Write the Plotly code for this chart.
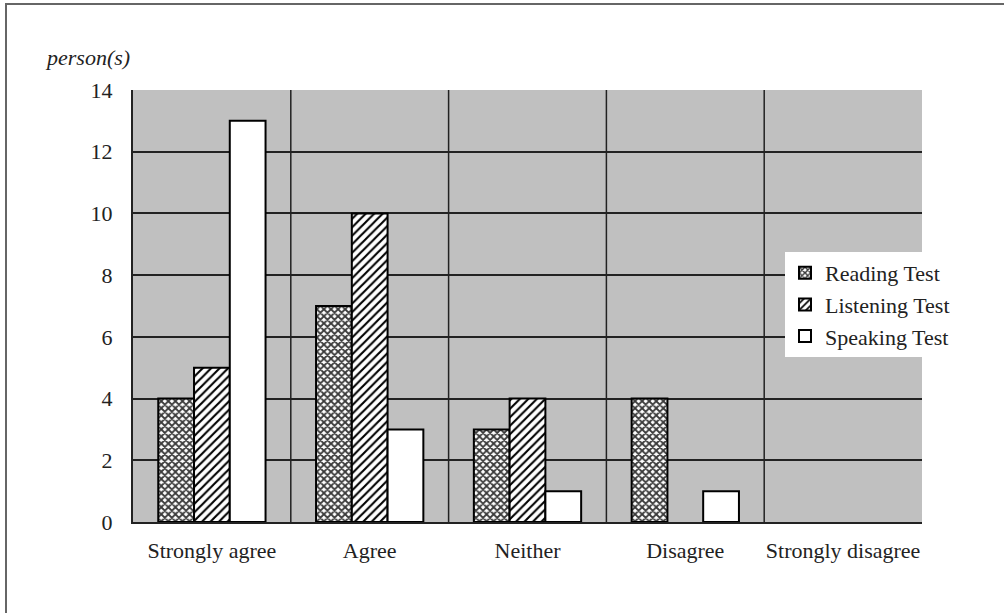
import plotly.graph_objects as go

categories = ["Strongly agree", "Agree", "Neither", "Disagree", "Strongly disagree"]
reading = [4, 7, 3, 4, 0]
listening = [5, 10, 4, 0, 0]
speaking = [13, 3, 1, 1, 0]
y_ticks = [0, 2, 4, 6, 8, 10, 12, 14]

FONT = "Liberation Serif"
FS = 22
L, R, T, B = 133, 82, 90, 91
W, H = 1004, 613
pw, ph = W - L - R, H - T - B


def outline(vals):
    return [2 if v > 0 else 0 for v in vals]


fig = go.Figure()
fig.add_trace(go.Bar(
    name="Reading Test", x=categories, y=reading,
    marker=dict(color="white", line=dict(color="black", width=outline(reading)),
                pattern=dict(shape="x", bgcolor="white", fgcolor="#3a3a3a",
                             size=5, solidity=0.6, fillmode="replace")),
))
fig.add_trace(go.Bar(
    name="Listening Test", x=categories, y=listening,
    marker=dict(color="white", line=dict(color="black", width=outline(listening)),
                pattern=dict(shape="/", bgcolor="white", fgcolor="black",
                             size=6, solidity=0.35, fillmode="replace")),
))
fig.add_trace(go.Bar(
    name="Speaking Test", x=categories, y=speaking,
    marker=dict(color="white", line=dict(color="black", width=outline(speaking))),
))

shapes = []
for i in range(len(categories) - 1):
    shapes.append(dict(type="line", xref="x", yref="paper", x0=i + 0.5, x1=i + 0.5,
                       y0=0, y1=1, line=dict(color="#222222", width=1.5), layer="below"))
# page frame (top and left edges)
shapes.append(dict(type="line", xref="paper", yref="paper",
                   x0=(5 - L) / pw, x1=(W - L) / pw, y0=(H - B - 4) / ph, y1=(H - B - 4) / ph,
                   line=dict(color="#666666", width=2)))
shapes.append(dict(type="line", xref="paper", yref="paper",
                   x0=(6 - L) / pw, x1=(6 - L) / pw, y0=(H - B - 4) / ph, y1=-B / ph,
                   line=dict(color="#666666", width=2)))

fig.update_layout(
    width=W, height=H,
    margin=dict(l=L, r=R, t=T, b=B),
    paper_bgcolor="white", plot_bgcolor="#c0c0c0",
    barmode="group", bargap=0.32, bargroupgap=0,
    font=dict(family=FONT, size=FS, color="#222222"),
    showlegend=True,
    legend=dict(x=(785 - L) / pw, y=(H - B - 252) / ph, xanchor="left", yanchor="top",
                bgcolor="white", borderwidth=0, font=dict(family=FONT, size=FS),
                itemsizing="constant", tracegroupgap=0, itemwidth=30,
                entrywidth=150, entrywidthmode="pixels"),
    xaxis=dict(showgrid=False, showline=True, linecolor="#222222", linewidth=2,
               ticks="", tickfont=dict(family=FONT, size=FS), ticklabelstandoff=8),
    yaxis=dict(range=[0, 14], tickvals=y_ticks, showgrid=True, gridcolor="#222222",
               gridwidth=1.5, showline=True, linecolor="#222222", linewidth=2,
               zeroline=False, ticks="", ticklen=0, ticklabelstandoff=14,
               tickfont=dict(family=FONT, size=FS)),
    shapes=shapes,
    annotations=[dict(text="<i>person(s)</i>", xref="paper", yref="paper",
                      x=(43 - L) / pw, y=(H - B - 57) / ph, xanchor="left", yanchor="middle",
                      showarrow=False, font=dict(family=FONT, size=FS))],
)

fig.write_html("out.html", config={"displayModeBar": False},
               post_script="document.body.style.margin='0';")
